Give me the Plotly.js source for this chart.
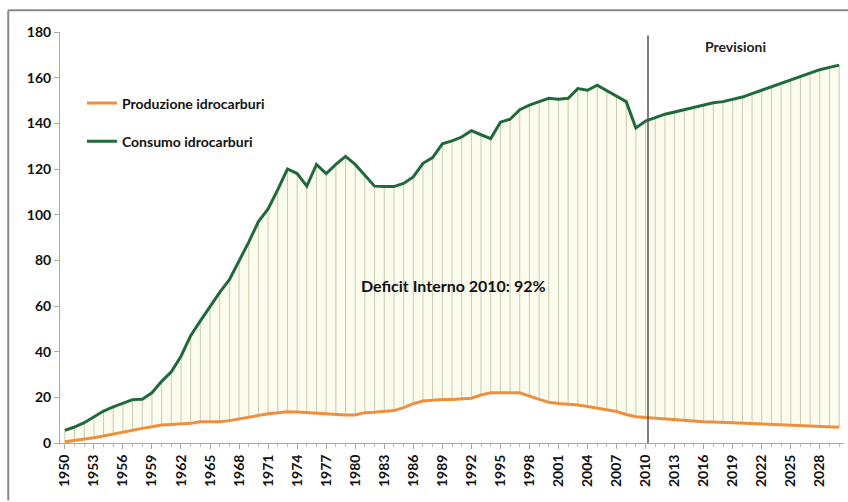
<!DOCTYPE html>
<html>
<head>
<meta charset="utf-8">
<script src="https://cdn.plot.ly/plotly-3.0.1.min.js"></script>
<style>html,body{margin:0;padding:0;background:#fff;}#chart{width:848px;height:502px;}</style>
</head>
<body>
<div id="chart"></div>
<script>
const years = [1950,1951,1952,1953,1954,1955,1956,1957,1958,1959,
  1960,1961,1962,1963,1964,1965,1966,1967,1968,1969,
  1970,1971,1972,1973,1974,1975,1976,1977,1978,1979,
  1980,1981,1982,1983,1984,1985,1986,1987,1988,1989,
  1990,1991,1992,1993,1994,1995,1996,1997,1998,1999,
  2000,2001,2002,2003,2004,2005,2006,2007,2008,2009,
  2010,2011,2012,2013,2014,2015,2016,2017,2018,2019,
  2020,2021,2022,2023,2024,2025,2026,2027,2028,2029,2030];

const produzione = [0.5,1,1.6,2.3,3.1,4,4.8,5.6,6.4,7.1,
  7.9,8.1,8.3,8.6,9.3,9.3,9.3,9.8,10.6,11.4,
  12.2,12.8,13.2,13.7,13.6,13.3,13,12.6,12.5,12.3,
  12.3,13.3,13.5,13.8,14.2,15.5,17.2,18.4,18.8,19,
  19.1,19.3,19.6,21,22,22,22,22,20.5,19,
  17.8,17.3,17,16.6,16,15.2,14.5,13.8,12.5,11.5,
  11.2,10.9,10.5,10,9.7,9.4,9.3,9.2,9,8.9,
  8.7,8.6,8.5,8.3,8.1,7.9,7.7,7.5,7.2,7,6.9];

const consumo = [5.5,7,8.9,11.5,14,15.8,17.4,19,19.2,22,
  27,31.2,38,47,53.5,60,66,71.5,79.5,88,
  97,102.5,111,120,118,112.5,122,118,122,125.5,
  122,117,112.5,112.3,112.3,113.7,116.5,122.5,125,131,
  132.3,134,136.8,135,133.3,140.5,141.8,146,148,149.5,
  151,150.5,151,155.2,154.5,156.7,154.3,151.7,149.5,138,
  141,142.5,144,145,146,147,148,149,149.5,150.5,
  151.5,153,154.5,156,157.5,159,160.5,162,163.5,164.5,165.5];

const tickYears = [1950,1953,1956,1959,1962,1965,1968,1971,1974,1977,1980,1983,1986,1989,1992,1995,1998,2001,2004,2007,2010,2013,2016,2019,2022,2025,2028];
const tickLabels = ["1950","1953","1956","1959","1962","1965","1968","1971","1974","1977","1980","1983","1986","1989","1992","1995","1998","2001","2004","2007","2010","2013","2016","2019","2022","2025","2028"];
const yTicks = [0,20,40,60,80,100,120,140,160,180];
const forecastStart = 2010.25;
const seriesNames = ["Produzione idrocarburi","Consumo idrocarburi"];
const noteText = "Deficit Interno 2010: 92%";
const forecastText = "Previsioni";

const FONT = "Lato, 'Open Sans', sans-serif";
const deficit = consumo.map((c,i)=>c-produzione[i]);
const zeros = consumo.map(()=>0);

const traces = [
  { x: years, y: produzione, type:'scatter', mode:'lines', line:{width:0,color:'rgba(0,0,0,0)'},
    error_y:{type:'data', symmetric:false, array:deficit, arrayminus:zeros, thickness:1, width:0, color:'#c9ccab'},
    showlegend:false, hoverinfo:'skip' },
  { x: years, y: consumo, type:'scatter', mode:'lines', line:{width:0,color:'rgba(0,0,0,0)'},
    fill:'tonexty', fillcolor:'rgba(251,251,234,0.8)', showlegend:false, hoverinfo:'skip' },
  { x: years, y: produzione, type:'scatter', mode:'lines', name: seriesNames[0],
    line:{color:'#ef8f3c', width:3}, legendgroup:'a' },
  { x: years, y: consumo, type:'scatter', mode:'lines', name: seriesNames[1],
    line:{color:'#1f6a3a', width:3}, legendgroup:'b' }
];

const layout = {
  width:848, height:502,
  margin:{l:60, r:4, t:32, b:59},
  paper_bgcolor:'#fff', plot_bgcolor:'#fff',
  font:{family:FONT, color:'#111', size:13},
  showlegend:true,
  legend:{x:0.028, y:0.865, xanchor:'left', yanchor:'top', bgcolor:'rgba(0,0,0,0)',
    font:{family:FONT, size:14, color:'#111', weight:'bold'}, traceorder:'grouped', tracegroupgap:17},
  xaxis:{range:[1949.5,2030.5], tickmode:'array', tickvals:tickYears, ticktext:tickLabels,
    tickangle:-90, ticks:'outside', ticklen:5, tickcolor:'#aaa', showgrid:false, zeroline:false,
    showline:true, linecolor:'#aaa', linewidth:1,
    tickfont:{family:FONT, size:14, color:'#111', weight:'bold'},
    minor:{tickmode:'linear', tick0:1950, dtick:1, ticks:'outside', ticklen:3, tickcolor:'#bbb', showgrid:false}},
  yaxis:{range:[0,180], tickmode:'array', tickvals:yTicks, ticks:'outside', ticklen:5, tickcolor:'#aaa',
    showgrid:false, zeroline:false, showline:true, linecolor:'#aaa', linewidth:1,
    tickfont:{family:FONT, size:14, color:'#111', weight:'bold'}},
  shapes:[
    {type:'line', xref:'x', yref:'y', x0:forecastStart, x1:forecastStart, y0:0, y1:178.5,
      line:{color:'#555', width:1.5}},
    {type:'line', xref:'paper', yref:'paper', x0:-0.066, x1:1.01, y0:1.053, y1:1.053,
      line:{color:'#888', width:2}},
    {type:'line', xref:'paper', yref:'paper', x0:-0.066, x1:-0.066, y0:-0.14, y1:1.053,
      line:{color:'#888', width:2}}
  ],
  annotations:[
    {text:noteText, xref:'x', yref:'y', x:1990.2, y:69, showarrow:false,
      font:{family:FONT, size:16, color:'#111', weight:'bold'}},
    {text:forecastText, xref:'x', yref:'y', x:2019.3, y:173.5, showarrow:false,
      font:{family:FONT, size:14, color:'#222', weight:'bold'}}
  ]
};

Plotly.newPlot('chart', traces, layout, {displayModeBar:false, staticPlot:true});
</script>
</body>
</html>
